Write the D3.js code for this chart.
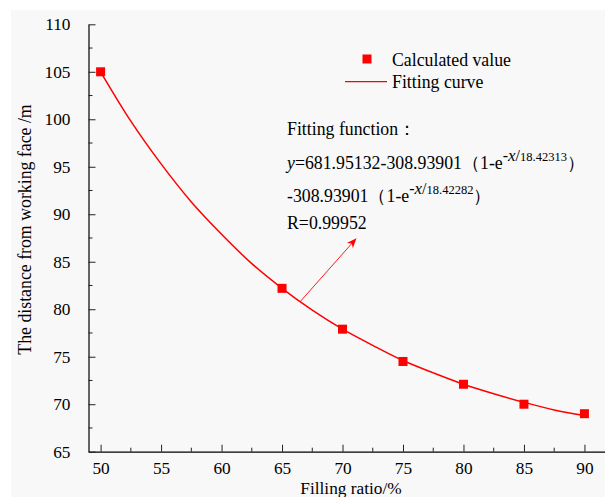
<!DOCTYPE html>
<html>
<head>
<meta charset="utf-8">
<script src="https://cdn.jsdelivr.net/npm/d3@7/dist/d3.min.js"></script>
<style>
  body { margin: 0; background: #ffffff; }
  svg { display: block; }
  svg text { font-family: 'Liberation Serif', 'Times New Roman', serif; fill: #000; }
</style>
</head>
<body>
<svg id="chart" width="605" height="497"></svg>
<script>
// Measured points: filling ratio (%) vs. distance from working face (m)
const fillingRatio = [50, 65, 70, 75, 80, 85, 90];
const distance = [105.0, 82.2, 77.9, 74.5, 72.1, 70.0, 69.0];

// Fitted curve, sampled every 2.5 %
const curveRatio = [50, 52.5, 55, 57.5, 60, 62.5, 65, 67.5, 70, 72.5, 75, 77.5, 80, 82.5, 85, 87.5, 90];
const curveDistance = [105.0, 99.8, 95.3, 91.3, 87.9, 84.8, 82.2, 79.9, 77.9, 76.2, 74.6, 73.3, 72.1, 71.1, 70.2, 69.4, 68.8];

// Axis ticks
const xTicks = [50, 55, 60, 65, 70, 75, 80, 85, 90];
const xMinorTicks = [52.5, 57.5, 62.5, 67.5, 72.5, 77.5, 82.5, 87.5];
const yTicks = [65, 70, 75, 80, 85, 90, 95, 100, 105, 110];
const yMinorTicks = [67.5, 72.5, 77.5, 82.5, 87.5, 92.5, 97.5, 102.5, 107.5];

// Labels
const xTitle = "Filling ratio/%";
const yTitle = "The distance from working face /m";
const legendLabels = ["Calculated value", "Fitting curve"];
const fitTitle = "Fitting function：";
const fitCoef = ["681.95132", "308.93901", "18.42313", "18.42282"];
const fitR = "R=0.99952";

// Annotation arrow (data units): from the curve towards the fit text
const arrowFrom = [66.5, 80.8];
const arrowTo = [71.1, 87.4];

const svg = d3.select("#chart");
const red = "#ff0000";
const fs = 17.8;

// Panel background
svg.append("rect")
  .attr("x", 11).attr("y", 10)
  .attr("width", 594).attr("height", 487)
  .attr("fill", "#f8f8f8");

const x = d3.scaleLinear().domain([49, 91.7]).range([88.5, 605]);
const y = d3.scaleLinear().domain([65, 110]).range([451.7, 24.3]);

const defs = svg.append("defs");
defs.append("marker")
  .attr("id", "arrowhead")
  .attr("viewBox", "0 0 10 10")
  .attr("refX", 9).attr("refY", 5)
  .attr("markerWidth", 10).attr("markerHeight", 10)
  .attr("markerUnits", "userSpaceOnUse")
  .attr("orient", "auto")
  .append("path")
  .attr("d", "M0,1 L10,5 L0,9 L3,5 Z")
  .attr("fill", red);

// X axis (ticks pointing inward)
const xAxis = svg.append("g")
  .attr("transform", `translate(0,${y(65)})`)
  .call(d3.axisBottom(x).tickValues(xTicks).tickSizeInner(-7).tickSizeOuter(0).tickPadding(10))
  .attr("font-family", null);
xAxis.select(".domain").attr("stroke", "#000").attr("stroke-width", 1.2);
xAxis.selectAll(".tick line").attr("stroke", "#222");
xAxis.selectAll(".tick text").attr("font-size", 17.3).attr("dy", "0.71em");
xAxis.selectAll(".minor").data(xMinorTicks).enter().append("line")
  .attr("class", "minor")
  .attr("x1", d => x(d)).attr("x2", d => x(d))
  .attr("y1", 0).attr("y2", -4)
  .attr("stroke", "#222");

// Y axis (ticks pointing inward)
const yAxis = svg.append("g")
  .attr("transform", `translate(${x(49)},0)`)
  .call(d3.axisLeft(y).tickValues(yTicks).tickSizeInner(-7).tickSizeOuter(0).tickPadding(18))
  .attr("font-family", null);
yAxis.select(".domain").attr("stroke", "#000").attr("stroke-width", 1.2);
yAxis.selectAll(".tick line").attr("stroke", "#222");
yAxis.selectAll(".tick text").attr("font-size", 17.3);
yAxis.selectAll(".minor").data(yMinorTicks).enter().append("line")
  .attr("class", "minor")
  .attr("x1", 0).attr("x2", 4)
  .attr("y1", d => y(d)).attr("y2", d => y(d))
  .attr("stroke", "#222");

// Axis titles
svg.append("text")
  .attr("x", 351).attr("y", 494)
  .attr("text-anchor", "middle")
  .attr("font-size", 17.3)
  .text(xTitle);

svg.append("text")
  .attr("transform", "translate(31,229.5) rotate(-90)")
  .attr("text-anchor", "middle")
  .attr("font-size", fs)
  .text(yTitle);

// Fitted curve
const curvePts = curveRatio.map((r, i) => [r, curveDistance[i]]);
svg.append("path")
  .datum(curvePts)
  .attr("fill", "none")
  .attr("stroke", red)
  .attr("stroke-width", 1.5)
  .attr("d", d3.line().x(d => x(d[0])).y(d => y(d[1])).curve(d3.curveCatmullRom));

// Measured points
const ms = 9;
svg.append("g").selectAll("rect")
  .data(fillingRatio.map((r, i) => [r, distance[i]]))
  .enter().append("rect")
  .attr("x", d => x(d[0]) - ms / 2)
  .attr("y", d => y(d[1]) - ms / 2)
  .attr("width", ms).attr("height", ms)
  .attr("fill", red);

// Annotation arrow
svg.append("line")
  .attr("x1", x(arrowFrom[0])).attr("y1", y(arrowFrom[1]))
  .attr("x2", x(arrowTo[0])).attr("y2", y(arrowTo[1]))
  .attr("stroke", red).attr("stroke-width", 0.9)
  .attr("marker-end", "url(#arrowhead)");

// Legend
const lg = svg.append("g");
lg.append("rect")
  .attr("x", 367 - ms / 2).attr("y", 59 - ms / 2)
  .attr("width", ms).attr("height", ms).attr("fill", red);
lg.append("text").attr("x", 392).attr("y", 65.5).attr("font-size", fs).text(legendLabels[0]);
lg.append("line")
  .attr("x1", 345).attr("x2", 387).attr("y1", 81.7).attr("y2", 81.7)
  .attr("stroke", red).attr("stroke-width", 1.3);
lg.append("text").attr("x", 392).attr("y", 88).attr("font-size", fs).text(legendLabels[1]);

// Fit equation block
const fx = 287;
svg.append("text").attr("x", fx).attr("y", 135).attr("font-size", fs).text(fitTitle);

function expTerm(t, tau) {
  t.append("tspan").attr("dy", -8).attr("font-size", 16).text("-");
  t.append("tspan").attr("font-size", 17).attr("font-style", "italic").text("x");
  t.append("tspan").attr("font-size", 16).text("/");
  t.append("tspan").attr("font-size", 12.5).text(tau);
  t.append("tspan").attr("dy", 8).attr("font-size", fs).text("）");
}

const l1 = svg.append("text").attr("x", fx).attr("y", 169).attr("font-size", fs);
l1.append("tspan").attr("font-style", "italic").text("y");
l1.append("tspan").text(`=${fitCoef[0]}-${fitCoef[1]}（1-e`);
expTerm(l1, fitCoef[2]);

const l2 = svg.append("text").attr("x", fx).attr("y", 202).attr("font-size", fs);
l2.append("tspan").text(`-${fitCoef[1]}（1-e`);
expTerm(l2, fitCoef[3]);

svg.append("text").attr("x", fx).attr("y", 228.5).attr("font-size", fs).text(fitR);
</script>
</body>
</html>
